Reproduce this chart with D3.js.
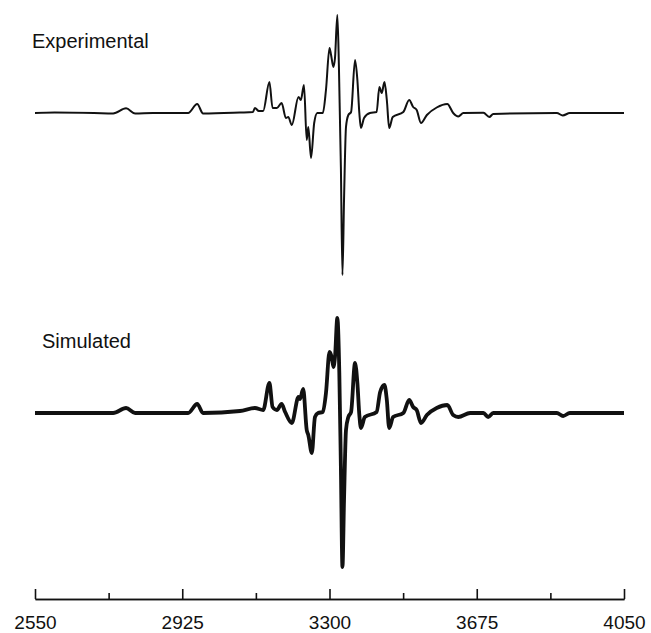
<!DOCTYPE html>
<html lang="en">

<head>
  <meta charset="utf-8">
  <title>EPR spectra</title>
  <script src="https://d3js.org/d3.v7.min.js"></script>
  <style>
    body { margin: 0; background: #fff; }
    svg text { font-family: "Liberation Sans", Arial, sans-serif; fill: #111; }
  </style>
</head>

<body>
  <svg width="651" height="633"></svg>
  <script>
    // magnetic field (G) and derivative intensity (arb. units, baseline = 0)
    const expField = [2550, 2600, 2700, 2749, 2782, 2805, 2850, 2940, 2963, 2978, 3072, 3105, 3110, 3120, 3131,
      3147, 3155, 3166, 3178, 3189, 3195, 3204, 3221, 3227, 3235, 3242, 3246, 3253, 3261, 3269, 3283, 3291,
      3300, 3304, 3310, 3314, 3320, 3324, 3329, 3333, 3337, 3342, 3348, 3355, 3365, 3371, 3376, 3380, 3388,
      3403, 3420, 3427, 3433, 3440, 3446, 3452, 3461, 3488, 3503, 3513, 3522, 3533, 3548, 3573, 3600, 3615,
      3628, 3641, 3692, 3707, 3717, 3879, 3894, 3912, 4050];
    const expSignal = [0, 0.5, 0, -0.5, 4.7, -0.5, 0, 0, 9, -0.5, 0.5, 1, 5, 2, 2,
      31, 5, 5, 10, -5, -4, -12, 16, 13, 28, -27, -14, -45, -10, 0, 0, 23,
      65, 58, 46, 55, 98, 46, -54, -162, -87, -14, -2, 1, 53, 33, 0, -15, -5,
      0, 1, 26, 20, 31, 13, -15, -4, 1, 13, 6, 3, -10, -2, 5.5, 9, 0,
      -3.5, 0, 0.3, -4, -1, 0, -2.5, 0, 0];

    const simField = [2550, 2749, 2782, 2805, 2940, 2963, 2978, 3072, 3110, 3131, 3147, 3155, 3166, 3178, 3187,
      3204, 3221, 3225, 3233, 3242, 3246, 3255, 3263, 3271, 3283, 3291, 3300, 3306, 3310, 3314, 3320, 3325,
      3329, 3333, 3337, 3342, 3348, 3355, 3365, 3371, 3376, 3380, 3390, 3420, 3429, 3440, 3446, 3452, 3462,
      3488, 3503, 3513, 3522, 3533, 3548, 3573, 3600, 3615, 3628, 3658, 3692, 3704, 3717, 3879, 3895, 3912, 4050];
    const simSignal = [0, 0, 5, 0, 0, 9, 0, 2, 5, 3, 30, 6, 3, 9, 1,
      -10, 16, 14, 24, -17, -22, -40, -4, 0, 1, 20, 61, 55, 46, 56, 95, 40,
      -54, -154, -87, -17, -4, 1, 50, 30, -2, -15, -4, 1, 21, 28, 13, -15, -4,
      0, 13, 6, 3, -10, -2, 5, 8, -2, -4, 0, 0, -4, 0, 0, -3, 0, 0];

    const majorTicks = [2550, 2925, 3300, 3675, 4050];
    const minorTicks = [2737.5, 3112.5, 3487.5, 3862.5];

    const svg = d3.select("svg");

    const x = d3.scaleLinear().domain([2550, 4050]).range([35, 624]);
    const yExp = d3.scaleLinear().domain([-170, 110]).range([283, 3]);
    const ySim = d3.scaleLinear().domain([-170, 110]).range([583, 303]);

    function trace(fields, values, y, width) {
      const pts = fields.map((f, i) => [f, values[i]]);
      const line = d3.line()
        .x(d => x(d[0]))
        .y(d => y(d[1]))
        .curve(d3.curveMonotoneX);
      svg.append("path")
        .datum(pts)
        .attr("d", line)
        .attr("fill", "none")
        .attr("stroke", "#111")
        .attr("stroke-width", width)
        .attr("stroke-linejoin", "round");
    }

    trace(expField, expSignal, yExp, 2);
    trace(simField, simSignal, ySim, 3.8);

    svg.append("text").attr("x", 32).attr("y", 48).attr("font-size", 20).text("Experimental");
    svg.append("text").attr("x", 42).attr("y", 348).attr("font-size", 20).text("Simulated");

    // axis: ticks point up, labels below
    const axisY = 599;
    const major = d3.axisBottom(x).tickValues(majorTicks).tickFormat(d3.format("d"))
      .tickSizeInner(-10).tickSizeOuter(0).tickPadding(17);
    const minor = d3.axisBottom(x).tickValues(minorTicks).tickFormat("")
      .tickSizeInner(-6).tickSizeOuter(0);

    const gMinor = svg.append("g").attr("transform", `translate(0,${axisY})`).call(minor);
    const gMajor = svg.append("g").attr("transform", `translate(0,${axisY})`).call(major);

    svg.selectAll(".domain").attr("stroke", "#111").attr("stroke-width", 1.6);
    svg.selectAll(".tick line").attr("stroke", "#111").attr("stroke-width", 1.6);
    gMajor.selectAll(".tick text")
      .attr("font-size", 19)
      .attr("font-family", "Liberation Sans, Arial, sans-serif")
      .attr("fill", "#111");
  </script>
</body>

</html>
